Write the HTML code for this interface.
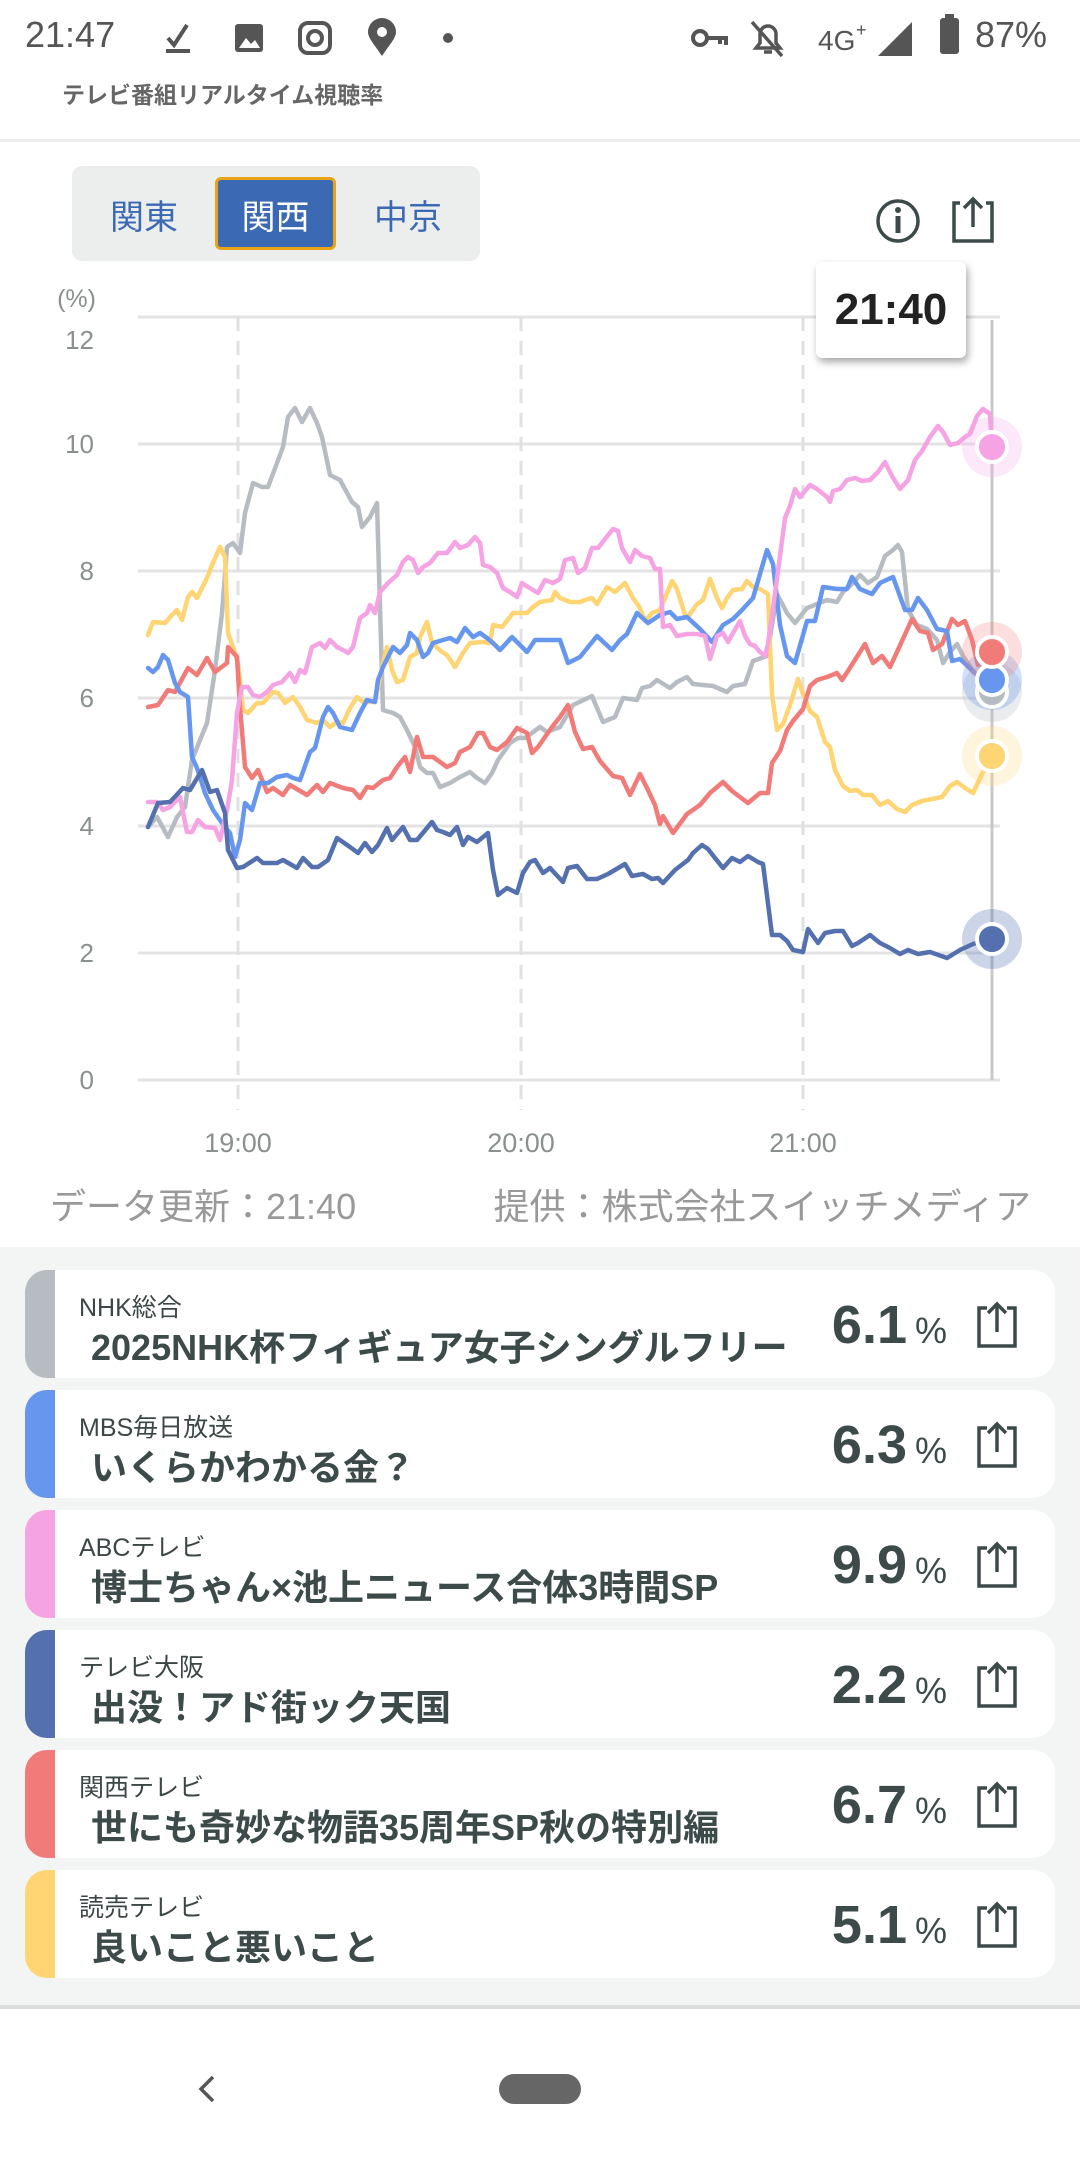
<!DOCTYPE html>
<html><head><meta charset="utf-8">
<style>
*{margin:0;padding:0;box-sizing:border-box}
body{width:1080px;height:2160px;position:relative;background:#fff;font-family:"Liberation Sans","Noto Sans CJK JP",sans-serif;overflow:hidden}
.a{position:absolute}
.card{position:absolute;left:25px;width:1030px;height:108px;background:#fff;border-radius:22px;overflow:hidden}
.bar{position:absolute;left:0;top:0;width:30px;height:108px}
.ch{position:absolute;left:54px;top:18px;font-size:25px;color:#3d4646}
.tt{position:absolute;left:66px;top:49px;font-size:36px;font-weight:bold;color:#3d4a4a;white-space:nowrap}
.val{position:absolute;right:108px;top:24px;font-size:54px;font-weight:bold;color:#3d4a4a;white-space:nowrap}
.val span{font-size:36px;font-weight:normal;margin-left:8px}
.sh{position:absolute;left:950px;top:30px}
</style></head><body>
<!-- status bar -->
<div class="a" style="left:25px;top:14px;font-size:36px;color:#555">21:47</div>
<svg class="a" style="left:160px;top:18px" width="320" height="40" viewBox="0 0 320 40">
<path d="M8 20 l6 7 l13 -20" stroke="#555" stroke-width="4" fill="none"/><rect x="6" y="31" width="24" height="4" fill="#555"/>
<rect x="75" y="6" width="28" height="28" rx="3" fill="#555"/><path d="M79 30 l7-10 l5 6 l4-4 l5 8z" fill="#fff"/>
<rect x="140" y="5" width="30" height="30" rx="8" fill="none" stroke="#555" stroke-width="4"/><circle cx="155" cy="20" r="7" fill="none" stroke="#555" stroke-width="4"/>
<path d="M222 38 C214 26 208 20 208 14 a14 14 0 0 1 28 0 c0 6 -6 12 -14 24z" fill="#555"/><circle cx="222" cy="14" r="5" fill="#fff"/>
<circle cx="288" cy="20" r="5" fill="#555"/>
</svg>
<svg class="a" style="left:690px;top:16px" width="250" height="44" viewBox="0 0 250 44">
<circle cx="10" cy="22" r="7" fill="none" stroke="#555" stroke-width="4"/><path d="M16 22 h20 v7 M30 22 v6" stroke="#555" stroke-width="4" fill="none"/>
<path d="M66 32 h24 l-4 -5 v-9 a8 8 0 0 0 -16 0 v9z M74 36 h8" fill="none" stroke="#555" stroke-width="3.5"/><path d="M62 6 l30 34" stroke="#555" stroke-width="3.5"/>
<text x="128" y="34" font-size="28" fill="#555" font-family="Liberation Sans">4G</text><text x="166" y="20" font-size="18" fill="#555">+</text>
<path d="M188 40 L222 6 V40z" fill="#555"/>
</svg>
<div class="a" style="left:940px;top:18px;width:19px;height:36px;background:#555;border-radius:3px"></div>
<div class="a" style="left:945px;top:14px;width:9px;height:5px;background:#555"></div>
<div class="a" style="left:975px;top:14px;font-size:36px;color:#555">87%</div>
<div class="a" style="left:62px;top:76px;font-size:23px;font-weight:bold;color:#666">テレビ番組リアルタイム視聴率</div>
<div class="a" style="left:0;top:139px;width:1080px;height:3px;background:#ececec"></div>

<!-- segmented control -->
<div class="a" style="left:72px;top:166px;width:408px;height:95px;background:#eceeee;border-radius:10px"></div>
<div class="a" style="left:215px;top:177px;width:121px;height:73px;background:#3b69b3;border:3px solid #e8a317;border-radius:6px"></div>
<div class="a" style="left:72px;top:190px;width:144px;text-align:center;font-size:34px;color:#3b69b3">関東</div>
<div class="a" style="left:215px;top:190px;width:121px;text-align:center;font-size:34px;color:#fff">関西</div>
<div class="a" style="left:336px;top:190px;width:144px;text-align:center;font-size:34px;color:#3b69b3">中京</div>
<svg class="a" style="left:870px;top:195px" width="130" height="52" viewBox="0 0 130 52">
<circle cx="28" cy="26" r="20" fill="none" stroke="#3d4a4a" stroke-width="3.5"/><circle cx="28" cy="15" r="3" fill="#3d4a4a"/><rect x="25.5" y="21" width="5" height="17" fill="#3d4a4a"/>
<path d="M90 8 H84 V46 H122 V8 H116" fill="none" stroke="#3d4a4a" stroke-width="3.5"/><path d="M103 32 V4 M94 13 L103 4 L112 13" fill="none" stroke="#3d4a4a" stroke-width="3.5"/>
</svg>

<!-- chart -->
<svg class="a" style="left:0;top:0" width="1080" height="1200" viewBox="0 0 1080 1200">
<g stroke="#e3e3e3" stroke-width="3">
<line x1="138" y1="317" x2="1000" y2="317"/><line x1="138" y1="444" x2="1000" y2="444"/><line x1="138" y1="571" x2="1000" y2="571"/><line x1="138" y1="698" x2="1000" y2="698"/><line x1="138" y1="826" x2="1000" y2="826"/><line x1="138" y1="953" x2="1000" y2="953"/><line x1="138" y1="1080" x2="1000" y2="1080"/>
</g>
<g stroke="#e0e0e0" stroke-width="3" stroke-dasharray="14,10">
<line x1="238" y1="317" x2="238" y2="1110"/><line x1="521" y1="317" x2="521" y2="1110"/><line x1="803" y1="317" x2="803" y2="1110"/>
</g>
<g font-size="26" fill="#8a8f8f" text-anchor="end" font-family="Liberation Sans">
<text x="94" y="349">12</text><text x="94" y="453">10</text><text x="94" y="580">8</text><text x="94" y="707">6</text><text x="94" y="835">4</text><text x="94" y="962">2</text><text x="94" y="1089">0</text>
<text x="96" y="307" font-size="25">(%)</text>
</g>
<g font-size="27" fill="#8a8f8f" text-anchor="middle" font-family="Liberation Sans">
<text x="238" y="1152">19:00</text><text x="521" y="1152">20:00</text><text x="803" y="1152">21:00</text>
</g>
<line x1="992" y1="320" x2="992" y2="1080" stroke="#c8c8c8" stroke-width="3"/>
<g fill="none" stroke-width="4.5" stroke-linejoin="round" stroke-linecap="round">
<polyline stroke="#b7bcc2" points="148,827 157,817 168,837 177,817 185,807 192,760 200,740 207,723 215,670 222,613 227,547 233,543 240,553 245,513 253,483 262,487 268,487 277,463 283,447 288,417 295,408 302,422 310,408 317,423 322,437 330,475 340,480 352,502 358,507 362,527 370,517 377,503 383,710 393,713 400,717 407,730 415,747 420,767 427,773 433,773 440,787 450,783 460,777 470,772 477,778 485,783 492,773 498,760 510,743 518,738 525,738 540,727 547,732 560,727 573,705 592,696 603,722 615,717 623,698 637,700 642,688 650,686 657,680 670,688 677,682 687,677 693,684 713,686 727,692 733,686 745,684 753,661 767,656 777,594 787,613 795,623 807,608 817,604 827,600 837,602 843,592 853,583 860,575 868,583 877,577 885,556 893,550 898,545 902,552 908,610 917,625 927,629 937,640 943,663 950,652 957,644 963,656 973,671 983,682 992,690"/>
<polyline stroke="#ffd473" points="148,635 153,622 165,623 172,615 177,610 182,620 188,597 192,592 197,598 207,578 212,565 220,547 225,557 228,633 233,647 238,663 243,710 248,713 257,703 263,703 273,692 278,693 285,703 293,697 300,707 307,720 317,723 323,720 330,727 337,722 343,723 350,708 357,697 363,702 375,702 380,677 387,647 392,670 397,682 403,680 410,657 417,653 420,637 427,622 432,643 442,652 447,655 455,667 463,653 470,643 483,642 490,643 493,625 502,627 513,613 527,613 533,607 540,602 552,600 555,592 560,598 570,602 580,602 585,600 592,598 597,604 607,587 615,592 625,583 633,598 640,608 645,621 652,613 660,610 672,581 677,589 685,615 688,617 697,604 703,600 710,579 717,598 722,608 727,598 733,590 742,589 747,581 753,587 760,589 768,594 772,694 777,730 783,724 790,705 798,679 803,694 810,711 817,717 825,742 830,747 835,770 843,786 850,791 857,790 863,795 872,795 880,805 888,801 897,809 905,812 912,805 922,801 932,799 942,797 950,786 957,782 965,788 973,793 982,774 992,757"/>
<polyline stroke="#f07b78" points="148,707 158,705 168,690 175,692 188,668 197,675 207,658 215,672 227,663 228,647 237,657 240,707 245,767 252,778 258,770 267,792 273,788 283,795 290,785 307,795 317,785 323,792 330,783 343,788 353,790 360,798 367,787 373,788 383,780 390,778 397,767 405,757 410,772 417,737 423,757 433,757 447,767 455,763 460,752 470,747 478,733 483,733 490,747 497,750 507,742 517,728 527,733 532,753 538,747 552,727 560,717 568,705 575,732 583,749 592,747 600,761 613,776 622,778 630,795 640,774 647,788 655,805 660,824 663,816 673,833 687,814 700,805 710,793 723,782 732,791 748,803 760,793 768,793 772,763 780,751 787,730 793,721 803,709 810,686 817,680 827,677 837,673 842,680 848,671 865,644 873,663 882,656 890,667 897,652 912,619 920,631 928,633 933,650 942,644 952,619 958,625 965,621 972,640 978,665 992,655"/>
<polyline stroke="#6696ee" points="148,668 153,672 158,667 163,655 168,660 175,683 180,692 188,697 192,757 197,768 205,793 213,810 222,823 230,833 235,857 240,840 245,803 252,810 260,783 268,783 277,777 287,775 293,778 300,780 310,752 315,748 323,717 328,707 333,713 340,727 352,730 360,713 367,700 375,702 378,680 383,667 393,647 400,653 407,645 410,633 417,640 423,657 428,653 433,643 443,640 450,638 457,642 465,628 473,637 480,633 487,638 493,643 500,650 512,637 520,645 527,652 535,640 543,640 560,640 568,663 580,657 597,636 612,650 620,640 627,634 637,613 648,623 660,615 670,612 677,619 687,617 700,629 712,642 723,625 733,619 742,610 753,598 767,550 773,564 780,625 787,656 795,663 807,621 815,621 823,587 837,589 847,589 852,577 860,589 872,594 880,583 893,577 905,610 912,610 918,598 927,610 937,629 947,631 952,661 960,659 977,675 992,680"/>
<polyline stroke="#f5a3e3" points="148,802 157,802 163,810 170,807 180,797 187,832 192,832 198,820 205,827 215,828 220,840 227,810 232,780 237,713 242,687 248,687 253,695 260,697 267,692 273,685 282,682 290,673 295,682 300,670 305,673 312,647 320,643 325,648 330,640 337,647 343,650 348,653 353,647 360,618 367,613 370,605 375,613 380,592 388,583 397,575 403,562 408,557 413,560 418,573 423,567 430,563 438,553 447,553 455,542 460,548 468,545 475,537 480,543 483,565 490,567 497,573 503,588 510,592 517,597 522,583 528,587 538,593 545,580 553,583 560,579 565,560 573,558 578,573 585,568 592,548 598,548 605,539 613,529 618,531 622,548 630,562 635,550 642,556 650,558 655,569 660,569 663,627 670,625 677,636 687,634 697,634 705,636 710,659 717,636 723,633 728,642 733,633 740,621 745,636 750,644 755,646 760,652 765,656 768,644 773,608 780,556 785,518 790,506 795,489 800,497 810,485 817,489 822,493 827,497 830,502 833,491 840,489 847,480 855,478 862,481 870,480 878,472 885,462 892,476 900,489 908,480 915,460 922,451 930,437 938,426 943,432 950,445 958,443 965,437 970,434 977,416 983,409 990,414 992,447"/>
<polyline stroke="#5570ae" points="148,827 158,803 170,802 183,788 190,790 202,770 210,792 217,790 225,813 228,850 237,868 243,867 257,858 263,863 277,863 283,860 297,868 303,858 312,867 318,867 328,860 337,838 350,847 358,853 365,843 372,852 378,845 387,828 392,840 403,827 410,840 417,840 427,828 432,822 437,830 443,832 450,835 457,827 463,845 468,837 477,842 488,833 493,870 498,895 507,888 517,893 523,873 530,862 535,860 543,873 550,868 563,882 568,868 577,866 587,879 597,879 608,874 625,864 632,876 643,874 652,879 658,878 663,883 675,870 688,860 693,853 702,845 708,849 715,858 723,868 732,858 740,862 748,856 758,862 763,864 772,935 780,935 787,941 793,950 803,952 808,929 818,943 825,933 835,931 843,931 852,946 858,943 870,935 880,943 890,948 900,954 908,950 918,954 930,952 947,958 960,950 973,944 992,939"/>
</g>
<g stroke="#fff" stroke-width="4">
<circle cx="992" cy="692" r="30" fill="#b7bcc2" fill-opacity="0.3" stroke="none"/>
<circle cx="992" cy="680" r="30" fill="#6696ee" fill-opacity="0.3" stroke="none"/>
<circle cx="992" cy="447" r="30" fill="#f5a3e3" fill-opacity="0.25" stroke="none"/>
<circle cx="992" cy="652" r="30" fill="#f07b78" fill-opacity="0.25" stroke="none"/>
<circle cx="992" cy="756" r="30" fill="#ffd473" fill-opacity="0.25" stroke="none"/>
<circle cx="992" cy="939" r="30" fill="#5570ae" fill-opacity="0.3" stroke="none"/>
<circle cx="992" cy="692" r="15" fill="#b7bcc2"/>
<circle cx="992" cy="680" r="15" fill="#6696ee"/>
<circle cx="992" cy="652" r="15" fill="#f07b78"/>
<circle cx="992" cy="447" r="15" fill="#f5a3e3"/>
<circle cx="992" cy="756" r="15" fill="#ffd473"/>
<circle cx="992" cy="939" r="15" fill="#5570ae"/>
</g>
</svg>
<div class="a" style="left:816px;top:262px;width:150px;height:96px;background:#fff;border-radius:6px;box-shadow:2px 4px 8px rgba(0,0,0,0.35);text-align:center;line-height:96px;font-size:44px;font-weight:bold;color:#222">21:40</div>

<div class="a" style="left:50px;top:1178px;font-size:36px;color:#999">データ更新：21:40</div>
<div class="a" style="right:49px;top:1178px;font-size:36px;color:#999">提供：株式会社スイッチメディア</div>

<!-- list -->
<div class="a" style="left:0;top:1247px;width:1080px;height:760px;background:#f3f4f4"></div>
<div class="a" style="left:0;top:2005px;width:1080px;height:4px;background:#dcdcdc"></div>

<div class="card" style="top:1270px"><div class="bar" style="background:#b7bcc2"></div><div class="ch">NHK総合</div><div class="tt">2025NHK杯フィギュア女子シングルフリー</div><div class="val">6.1<span>%</span></div><svg class="sh" width="44" height="50" viewBox="0 0 44 50"><path d="M12 8 H4 V46 H40 V8 H32" fill="none" stroke="#3d4a4a" stroke-width="3.5"/><path d="M22 32 V4 M13 13 L22 4 L31 13" fill="none" stroke="#3d4a4a" stroke-width="3.5"/></svg></div>
<div class="card" style="top:1390px"><div class="bar" style="background:#6696ee"></div><div class="ch">MBS毎日放送</div><div class="tt">いくらかわかる金？</div><div class="val">6.3<span>%</span></div><svg class="sh" width="44" height="50" viewBox="0 0 44 50"><path d="M12 8 H4 V46 H40 V8 H32" fill="none" stroke="#3d4a4a" stroke-width="3.5"/><path d="M22 32 V4 M13 13 L22 4 L31 13" fill="none" stroke="#3d4a4a" stroke-width="3.5"/></svg></div>
<div class="card" style="top:1510px"><div class="bar" style="background:#f5a3e3"></div><div class="ch">ABCテレビ</div><div class="tt">博士ちゃん×池上ニュース合体3時間SP</div><div class="val">9.9<span>%</span></div><svg class="sh" width="44" height="50" viewBox="0 0 44 50"><path d="M12 8 H4 V46 H40 V8 H32" fill="none" stroke="#3d4a4a" stroke-width="3.5"/><path d="M22 32 V4 M13 13 L22 4 L31 13" fill="none" stroke="#3d4a4a" stroke-width="3.5"/></svg></div>
<div class="card" style="top:1630px"><div class="bar" style="background:#5570ae"></div><div class="ch">テレビ大阪</div><div class="tt">出没！アド街ック天国</div><div class="val">2.2<span>%</span></div><svg class="sh" width="44" height="50" viewBox="0 0 44 50"><path d="M12 8 H4 V46 H40 V8 H32" fill="none" stroke="#3d4a4a" stroke-width="3.5"/><path d="M22 32 V4 M13 13 L22 4 L31 13" fill="none" stroke="#3d4a4a" stroke-width="3.5"/></svg></div>
<div class="card" style="top:1750px"><div class="bar" style="background:#f07b78"></div><div class="ch">関西テレビ</div><div class="tt">世にも奇妙な物語35周年SP秋の特別編</div><div class="val">6.7<span>%</span></div><svg class="sh" width="44" height="50" viewBox="0 0 44 50"><path d="M12 8 H4 V46 H40 V8 H32" fill="none" stroke="#3d4a4a" stroke-width="3.5"/><path d="M22 32 V4 M13 13 L22 4 L31 13" fill="none" stroke="#3d4a4a" stroke-width="3.5"/></svg></div>
<div class="card" style="top:1870px"><div class="bar" style="background:#ffd473"></div><div class="ch">読売テレビ</div><div class="tt">良いこと悪いこと</div><div class="val">5.1<span>%</span></div><svg class="sh" width="44" height="50" viewBox="0 0 44 50"><path d="M12 8 H4 V46 H40 V8 H32" fill="none" stroke="#3d4a4a" stroke-width="3.5"/><path d="M22 32 V4 M13 13 L22 4 L31 13" fill="none" stroke="#3d4a4a" stroke-width="3.5"/></svg></div>

<!-- nav -->
<svg class="a" style="left:195px;top:2074px" width="24" height="30" viewBox="0 0 24 30"><path d="M18 3 L6 15 L18 27" fill="none" stroke="#555" stroke-width="3.5"/></svg>
<div class="a" style="left:499px;top:2074px;width:82px;height:30px;border-radius:15px;background:#666"></div>
</body></html>
